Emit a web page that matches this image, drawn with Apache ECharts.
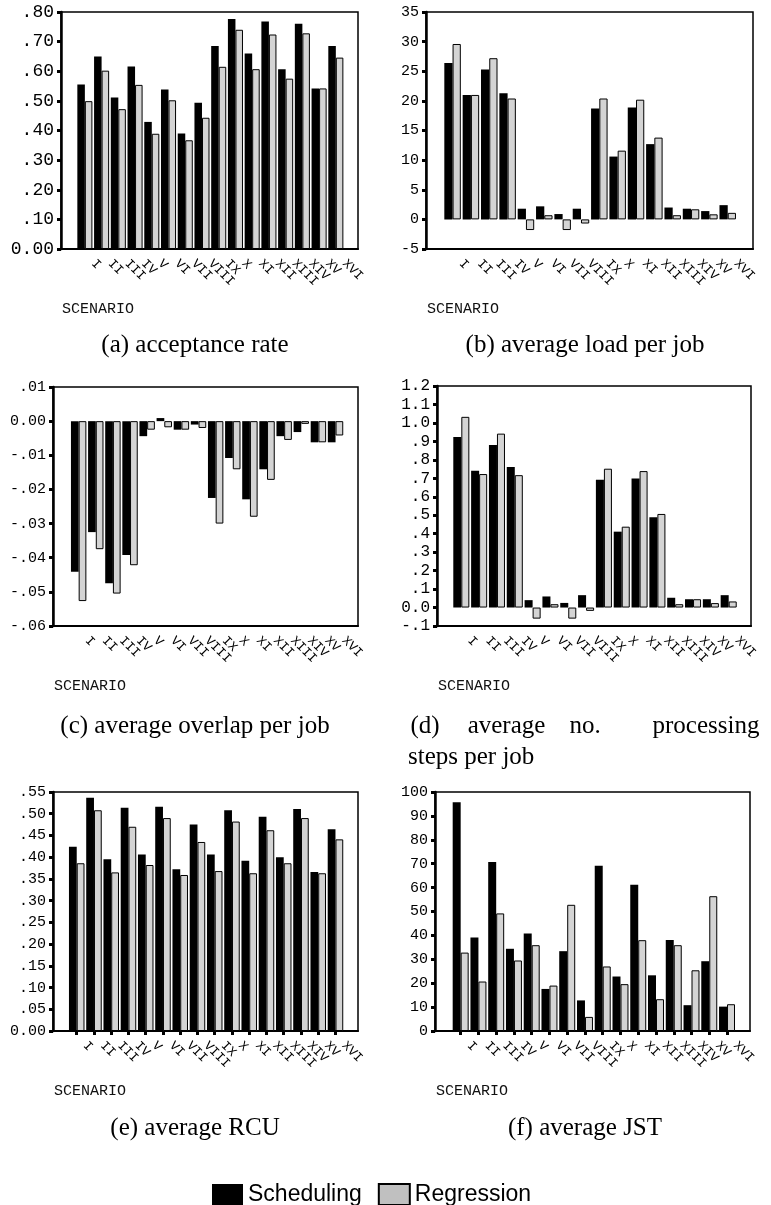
<!DOCTYPE html>
<html><head><meta charset="utf-8">
<script src="https://cdn.jsdelivr.net/npm/echarts@6/dist/echarts.min.js"></script>
<style>html,body{margin:0;padding:0;background:#fff}#c{width:771px;height:1205px}</style>
</head><body><div id="c"></div>
<script>
// ---------- data ----------
const scenarios = ['I','II','III','IV','V','VI','VII','VIII','IX','X','XI','XII','XIII','XIV','XV','XVI'];

const acceptSched = [0.555,0.650,0.511,0.616,0.429,0.538,0.390,0.494,0.685,0.776,0.660,0.768,0.607,0.760,0.542,0.685];
const acceptRegr  = [0.499,0.602,0.472,0.554,0.389,0.502,0.367,0.443,0.615,0.740,0.607,0.724,0.575,0.728,0.542,0.646];

const loadSched = [26.4,21.0,25.3,21.3,1.8,2.2,0.9,1.8,18.7,10.6,18.9,12.7,2.0,1.8,1.4,2.4];
const loadRegr  = [29.6,21.0,27.2,20.4,-1.8,0.7,-1.8,-0.7,20.4,11.6,20.2,13.8,0.7,1.7,0.85,1.1];

const overlapSched = [-0.0441,-0.0325,-0.0475,-0.0392,-0.0044,0.0009,-0.0025,-0.0010,-0.0225,-0.0108,-0.0229,-0.0141,-0.0044,-0.0032,-0.0062,-0.0062];
const overlapRegr  = [-0.0527,-0.0375,-0.0505,-0.0422,-0.0025,-0.0018,-0.0025,-0.0020,-0.0300,-0.0141,-0.0280,-0.0172,-0.0055,-0.0008,-0.0062,-0.0042];

const stepsSched = [0.924,0.741,0.880,0.761,0.040,0.060,0.025,0.067,0.692,0.411,0.699,0.489,0.053,0.045,0.045,0.067];
const stepsRegr  = [1.033,0.723,0.942,0.717,-0.060,0.018,-0.060,-0.018,0.752,0.438,0.739,0.507,0.018,0.045,0.024,0.033];

const rcuSched = [0.424,0.537,0.395,0.514,0.406,0.516,0.372,0.475,0.406,0.508,0.392,0.493,0.400,0.511,0.366,0.464];
const rcuRegr  = [0.386,0.508,0.365,0.470,0.382,0.490,0.359,0.435,0.368,0.482,0.363,0.462,0.386,0.490,0.363,0.441];

const jstSched = [95.7,39.1,70.7,34.4,40.8,17.6,33.4,12.8,69.1,22.8,61.2,23.3,38.1,10.8,29.2,10.2];
const jstRegr  = [32.8,20.7,49.2,29.5,35.9,19.0,52.8,5.9,27.0,19.6,38.0,13.3,35.9,25.4,56.4,11.2];

const ticksAccept  = ['0.00','.10','.20','.30','.40','.50','.60','.70','.80'];
const ticksLoad    = ['-5','0','5','10','15','20','25','30','35'];
const ticksOverlap = ['-.06','-.05','-.04','-.03','-.02','-.01','0.00','.01'];
const ticksSteps   = ['-.1','0.0','.1','.2','.3','.4','.5','.6','.7','.8','.9','1.0','1.1','1.2'];
const ticksRcu     = ['0.00','.05','.10','.15','.20','.25','.30','.35','.40','.45','.50','.55'];
const ticksJst     = ['0','10','20','30','40','50','60','70','80','90','100'];

const seriesNames = ['Scheduling','Regression'];
const axisTitle = 'SCENARIO';
const captions = ['(a) acceptance rate','(b) average load per job','(c) average overlap per job',
                  '(d) average no. processing steps per job','(e) average RCU','(f) average JST'];

// ---------- layout ----------
const panels = [
  {frame:[61,12,358,249],  plotL:76.5,  plotW:267.7, min:0,     max:0.8,  step:0.1,  ticks:ticksAccept,  s:acceptSched,  r:acceptRegr,  yFont:18, xTick:false},
  {frame:[426,12,753,249], plotL:443.4, plotW:293.5, min:-5,    max:35,   step:5,    ticks:ticksLoad,    s:loadSched,    r:loadRegr,    yFont:15, xTick:false},
  {frame:[53,387,358,626], plotL:70.1,  plotW:274.0, min:-0.06, max:0.01, step:0.01, ticks:ticksOverlap, s:overlapSched, r:overlapRegr, yFont:15, xTick:false},
  {frame:[437,386,751,626],plotL:452.4, plotW:285.2, min:-0.1,  max:1.2,  step:0.1,  ticks:ticksSteps,   s:stepsSched,   r:stepsRegr,   yFont:16, xTick:false},
  {frame:[53,792,358,1031],plotL:68.1,  plotW:276.0, min:0,     max:0.55, step:0.05, ticks:ticksRcu,     s:rcuSched,     r:rcuRegr,     yFont:15, xTick:true},
  {frame:[435,792,750,1031],plotL:451.8,plotW:284.1, min:0,     max:100,  step:10,   ticks:ticksJst,     s:jstSched,     r:jstRegr,     yFont:15, xTick:true}
];

const mono = 'Liberation Mono';
const grid = [], xAxis = [], yAxis = [], series = [], graphic = [];

panels.forEach((p, i) => {
  const [l, t, r, b] = p.frame;
  const h = b - t;
  // frame grid
  grid.push({left:l, top:t, width:r-l, height:h, show:true, borderColor:'#000', borderWidth:1.5, backgroundColor:'transparent'});
  xAxis.push({gridIndex:2*i, type:'value', min:0, max:1, position:'bottom',
    axisLine:{show:true, onZero:false, lineStyle:{color:'#000', width:2}},
    axisTick:{show:false}, axisLabel:{show:false}, splitLine:{show:false}});
  yAxis.push({gridIndex:2*i, type:'value', min:0, max:1, show:false});
  // plot grid
  grid.push({left:p.plotL, top:t, width:p.plotW, height:h});
  xAxis.push({gridIndex:2*i+1, type:'category', data:scenarios, position:'bottom',
    axisLine:{show:false, onZero:false},
    axisTick:{show:p.xTick, alignWithLabel:true, length:4, lineStyle:{color:'#000', width:3}},
    axisLabel:{interval:0, rotate:-45, fontFamily:mono, fontSize:13, color:'#000', margin:4, padding:[0,0,0,12]},
    splitLine:{show:false}});
  const tk = p.ticks;
  yAxis.push({gridIndex:2*i+1, type:'value', min:p.min, max:p.max, interval:p.step, offset:p.plotL - l,
    axisLine:{show:true, lineStyle:{color:'#000', width:2.5}},
    axisTick:{show:true, length:4, lineStyle:{color:'#000', width:3}},
    axisLabel:{fontFamily:mono, fontSize:p.yFont, color:'#000', margin:7, formatter:(v, idx) => tk[idx]},
    splitLine:{show:false}});
  series.push({type:'bar', name:seriesNames[0], xAxisIndex:2*i+1, yAxisIndex:2*i+1, data:p.s,
    barGap:'0%', barCategoryGap:'10%', itemStyle:{color:'#000'}});
  series.push({type:'bar', name:seriesNames[1], xAxisIndex:2*i+1, yAxisIndex:2*i+1, data:p.r,
    barGap:'0%', barCategoryGap:'10%', itemStyle:{color:'#d4d4d4', borderColor:'#000', borderWidth:1}});
  // axis title
  graphic.push({type:'text', left:l+1, top:b+53, style:{text:axisTitle, font:'15px "Liberation Mono"', fill:'#111'}});
});

// captions
const serif = '25px "Liberation Serif"';
const capPos = [[195,345],[585,345],[195,726],null,[195,1128],[585,1128]];
capPos.forEach((c, i) => {
  if (!c) return;
  graphic.push({type:'text', x:c[0], y:c[1], style:{text:captions[i], font:serif, fill:'#000', align:'center', verticalAlign:'middle'}});
});
// caption (d), justified over two lines
const dWords = captions[3].split(' ');
const dCenters = [425, 506.5, 585, 706];
dCenters.forEach((cx, k) => {
  graphic.push({type:'text', x:cx, y:726, style:{text:dWords[k], font:serif, fill:'#000', align:'center', verticalAlign:'middle'}});
});
graphic.push({type:'text', x:408, y:757, style:{text:dWords.slice(4).join(' '), font:serif, fill:'#000', align:'left', verticalAlign:'middle'}});

const chart = echarts.init(document.getElementById('c'), null, {renderer:'canvas'});
chart.setOption({
  animation:false,
  backgroundColor:'#fff',
  grid, xAxis, yAxis, series, graphic,
  legend:{data:[{name:seriesNames[0]},{name:seriesNames[1], itemStyle:{color:'#c0c0c0'}}],
    left:207, top:1178, itemWidth:31, itemHeight:21, itemGap:16, icon:'rect', selectedMode:false,
    textStyle:{fontFamily:'Liberation Sans', fontSize:23, color:'#000'}}
});
</script>
</body></html>
